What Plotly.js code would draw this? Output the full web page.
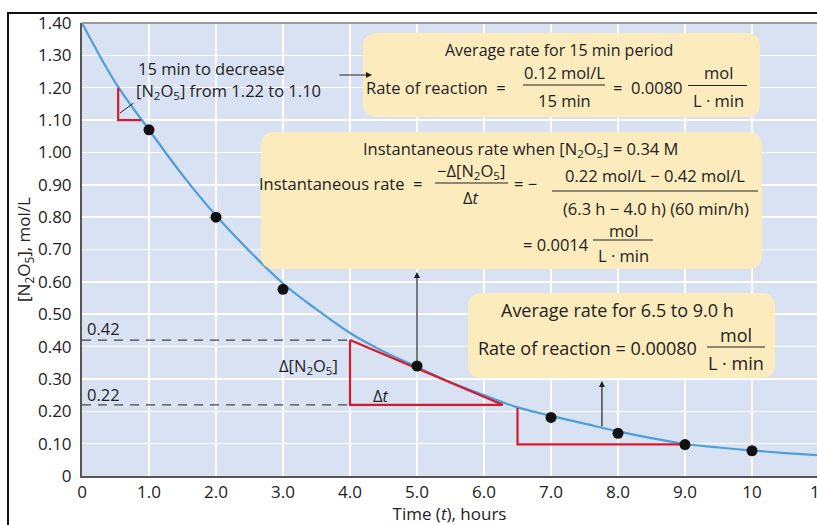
<!DOCTYPE html>
<html>
<head>
<meta charset="utf-8">
<script src="https://cdn.plot.ly/plotly-3.0.1.min.js"></script>
<style>html,body{margin:0;padding:0;background:#fff;}#chart{width:817px;height:525px;}</style>
</head>
<body>
<div id="chart"></div>
<script>
// ---- data ----
const curveT = [0, 0.5, 1.0, 1.5, 2.0, 2.5, 3.0, 3.5, 4.0, 4.5, 5.0, 5.5, 6.0, 6.5, 7.0, 7.5, 8.0, 8.5, 9.0, 9.5, 10.0, 10.5, 11.0];
const curveC = [1.40, 1.215, 1.07, 0.93, 0.805, 0.695, 0.595, 0.515, 0.442, 0.385, 0.337, 0.29, 0.25, 0.212, 0.186, 0.162, 0.138, 0.117, 0.099, 0.088, 0.079, 0.071, 0.064];
const pointT = [1.0, 2.0, 3.0, 5.0, 7.0, 8.0, 9.0, 10.0];
const pointC = [1.07, 0.80, 0.577, 0.34, 0.181, 0.132, 0.097, 0.078];
const tri1T = [0.54, 0.54, 0.88];
const tri1C = [1.20, 1.10, 1.10];
const tangentT = [4.0, 4.0, 6.28, 4.0];
const tangentC = [0.42, 0.22, 0.22, 0.42];
const tri3T = [6.5, 6.5, 9.0];
const tri3C = [0.21, 0.098, 0.098];
const dash42T = [0, 4.0], dash42C = [0.42, 0.42];
const dash22T = [0, 4.0], dash22C = [0.22, 0.22];
const xTickVals = [0, 1, 2, 3, 4, 5, 6, 7, 8, 9, 10];
const xTickText = ["0", "1.0", "2.0", "3.0", "4.0", "5.0", "6.0", "7.0", "8.0", "9.0", "10"];
const yTickVals = [0, 0.1, 0.2, 0.3, 0.4, 0.5, 0.6, 0.7, 0.8, 0.9, 1.0, 1.1, 1.2, 1.3, 1.4];
const yTickText = ["0", "0.10", "0.20", "0.30", "0.40", "0.50", "0.60", "0.70", "0.80", "0.90", "1.00", "1.10", "1.20", "1.30", "1.40"];

// ---- geometry helpers (pixel -> data) ----
const L = 82, T = 23, W = 735, H = 453;
const XR = [0, 10.97], YR = [0, 1.4];
function dx(px) { return XR[0] + (px - L) / W * (XR[1] - XR[0]); }
function dy(py) { return YR[0] + (T + H - py) / H * (YR[1] - YR[0]); }

const FONT = "Open Sans, sans-serif";
const FS = 16.5;
const TFS = 17;
const TXT = "#222";
const RED = "#d7192b";
const BLUE = "#4d9fd6";
const BOX = "#fcebbd";
const SP = "\u00a0";
const SP2 = SP + SP;

function rrect(x0, y0, x1, y1, r) {
  const p = (a, b) => dx(a) + "," + dy(b);
  return "M" + p(x0 + r, y0) + " L" + p(x1 - r, y0) + " Q" + p(x1, y0) + " " + p(x1, y0 + r) +
    " L" + p(x1, y1 - r) + " Q" + p(x1, y1) + " " + p(x1 - r, y1) +
    " L" + p(x0 + r, y1) + " Q" + p(x0, y1) + " " + p(x0, y1 - r) +
    " L" + p(x0, y0 + r) + " Q" + p(x0, y0) + " " + p(x0 + r, y0) + " Z";
}
function txt(s, px, py, anchor, size) {
  return { text: s, x: dx(px), y: dy(py), xref: "x", yref: "y", showarrow: false, borderpad: 0,
    xanchor: anchor || "center", yanchor: "middle", font: { family: FONT, size: size || FS, color: TXT } };
}
function fracLine(x0, x1, py) {
  return { type: "line", xref: "x", yref: "y", x0: dx(x0), x1: dx(x1), y0: dy(py), y1: dy(py),
    line: { color: TXT, width: 1.2 }, layer: "above" };
}
const N2O5 = "[N<sub>2</sub>O<sub>5</sub>]";
const EQ = SP + "=" + SP;
const MINUS = SP + "−" + SP;

const traces = [
  { x: curveT, y: curveC, mode: "lines", line: { color: BLUE, width: 2.2, shape: "spline", smoothing: 1 }, hoverinfo: "skip" },
  { x: dash42T, y: dash42C, mode: "lines", line: { color: "#444", width: 1.2, dash: "9px,7px" }, hoverinfo: "skip" },
  { x: dash22T, y: dash22C, mode: "lines", line: { color: "#444", width: 1.2, dash: "9px,7px" }, hoverinfo: "skip" },
  { x: tri1T, y: tri1C, mode: "lines", line: { color: RED, width: 2.2 }, hoverinfo: "skip" },
  { x: tangentT, y: tangentC, mode: "lines", line: { color: RED, width: 2.2 }, hoverinfo: "skip" },
  { x: tri3T, y: tri3C, mode: "lines", line: { color: RED, width: 2.2 }, hoverinfo: "skip" },
  { x: pointT, y: pointC, mode: "markers", marker: { color: "#111", size: 11 }, hoverinfo: "skip" }
];

const shapes = [
  // outer black frame
  { type: "rect", xref: "paper", yref: "paper", x0: (8 - L) / W, x1: 1.1, y0: -0.3, y1: (T + H - 13) / H,
    line: { color: "#111", width: 2 }, fillcolor: "rgba(0,0,0,0)", layer: "above" },
  // top plot border
  { type: "line", xref: "paper", yref: "paper", x0: 0, x1: 1, y0: 1, y1: 1, line: { color: "#999", width: 2 }, layer: "above" },
  // boxes
  { type: "path", path: rrect(363, 33, 760, 117, 14), fillcolor: BOX, line: { width: 0 }, layer: "above" },
  { type: "path", path: rrect(261, 132, 762, 269, 14), fillcolor: BOX, line: { width: 0 }, layer: "above" },
  { type: "path", path: rrect(468, 293, 775, 378, 14), fillcolor: BOX, line: { width: 0 }, layer: "above" },
  // fraction bars
  fracLine(523, 605, 85), fracLine(688, 747, 85.5),
  fracLine(435, 508, 183), fracLine(552, 758, 191),
  fracLine(593, 653, 240),
  fracLine(707, 765, 347)
];

const annotations = [
  txt("15 min to decrease", 137, 68, "left"),
  txt(N2O5 + " from 1.22 to 1.10", 135, 91, "left"),
  // leader line from text to triangle
  { x: dx(120), y: dy(113), ax: dx(135), ay: dy(102), axref: "x", ayref: "y", xref: "x", yref: "y",
    text: "", showarrow: true, arrowhead: 0, arrowwidth: 1, arrowcolor: TXT },
  // arrow to box 1
  { x: dx(372), y: dy(75), ax: dx(338), ay: dy(75), axref: "x", ayref: "y", xref: "x", yref: "y",
    text: "", showarrow: true, arrowhead: 2, arrowsize: 1, arrowwidth: 1.2, arrowcolor: TXT },
  // box 1
  txt("Average rate for 15 min period", 559, 50, "center", 16),
  txt("Rate of reaction" + SP2 + "=", 507, 87, "right"),
  txt("0.12 mol/L", 564, 72, "center"),
  txt("15 min", 564, 100, "center"),
  txt("=" + SP2 + "0.0080", 612, 87, "left"),
  txt("mol", 718, 72, "center"),
  txt("L · min", 718, 100, "center"),
  // box 2
  txt("Instantaneous rate when " + N2O5 + EQ + "0.34 M", 520, 149, "center"),
  txt("Instantaneous rate" + SP2 + "=", 423, 183, "right"),
  txt("−Δ" + N2O5, 471, 171, "center"),
  txt("Δ<i>t</i>", 471, 197, "center"),
  txt("=" + SP + "−", 513, 183, "left"),
  txt("0.22 mol/L" + MINUS + "0.42 mol/L", 655, 175, "center"),
  txt("(6.3 h" + MINUS + "4.0 h)" + SP + "(60 min/h)", 656, 208, "center"),
  txt("=" + SP + "0.0014", 590, 244, "right"),
  txt("mol", 623, 230, "center"),
  txt("L · min", 623, 255, "center"),
  // arrow to box 2
  { x: 5.0, y: dy(272), ax: 5.0, ay: 0.345, axref: "x", ayref: "y", xref: "x", yref: "y",
    text: "", showarrow: true, arrowhead: 2, arrowsize: 1, arrowwidth: 1.2, arrowcolor: TXT },
  // box 3
  txt("Average rate for 6.5 to 9.0 h", 617, 310, "center", 18),
  txt("Rate of reaction" + EQ + "0.00080", 698, 348, "right", 18),
  txt("mol", 736, 335, "center", 18),
  txt("L · min", 736, 363, "center", 18),
  // arrow to box 3
  { x: 7.76, y: dy(381), ax: 7.76, ay: 0.148, axref: "x", ayref: "y", xref: "x", yref: "y",
    text: "", showarrow: true, arrowhead: 2, arrowsize: 1, arrowwidth: 1.2, arrowcolor: TXT },
  // plot labels
  txt("0.42", 86, 328, "left"),
  txt("0.22", 86, 394, "left"),
  txt("Δ" + N2O5, 308, 366, "center"),
  txt("Δ<i>t</i>", 381, 395, "center"),
  // clipped 11 tick (cut by the right edge, as in the reference)
  { text: "11", x: (819 - L) / W, y: (T + H - 491) / H, xref: "paper", yref: "paper", showarrow: false,
    xanchor: "center", yanchor: "middle", borderpad: 0, font: { family: FONT, size: TFS, color: TXT } }
];

const layout = {
  width: 817, height: 525,
  margin: { l: L, r: 817 - L - W, t: T, b: 525 - T - H, pad: 0 },
  paper_bgcolor: "#ffffff",
  plot_bgcolor: "#d9e2f3",
  showlegend: false,
  font: { family: FONT, size: FS, color: TXT },
  xaxis: {
    range: XR, tickvals: xTickVals, ticktext: xTickText, showgrid: true, gridcolor: "#ffffff", gridwidth: 1.5,
    zeroline: false, showline: true, linecolor: "#555", linewidth: 2, ticks: "", ticklabelstandoff: 0,
    tickfont: { family: FONT, size: TFS, color: TXT },
    title: { text: "Time (<i>t</i>), hours", font: { family: FONT, size: TFS, color: TXT }, standoff: 7 },
    fixedrange: true
  },
  yaxis: {
    range: YR, tickvals: yTickVals, ticktext: yTickText, showgrid: true, gridcolor: "#ffffff", gridwidth: 1.5,
    zeroline: false, showline: true, linecolor: "#555", linewidth: 2, ticks: "", ticklabelstandoff: 5,
    tickfont: { family: FONT, size: TFS, color: TXT },
    title: { text: N2O5 + ", mol/L", font: { family: FONT, size: TFS, color: TXT }, standoff: 3 },
    fixedrange: true
  },
  shapes: shapes,
  annotations: annotations
};

Plotly.newPlot("chart", traces, layout, { displayModeBar: false, staticPlot: true });
</script>
</body>
</html>
